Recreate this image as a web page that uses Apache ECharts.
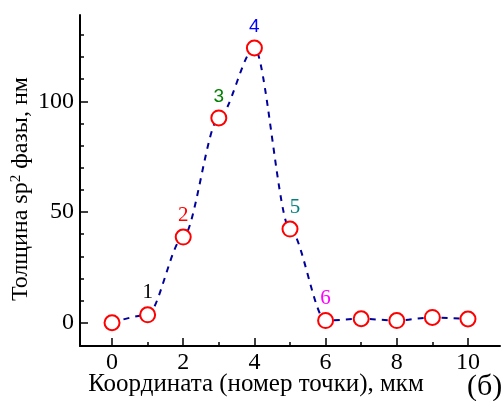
<!DOCTYPE html>
<html>
<head>
<meta charset="utf-8">
<script src="https://cdn.jsdelivr.net/npm/echarts@6/dist/echarts.min.js"></script>
<style>
  html, body { margin: 0; padding: 0; background: #fff; }
  #chart { width: 504px; height: 401px; }
</style>
</head>
<body>
<div id="chart"></div>
<script>
"use strict";

// point index along the scan (x) and sp2 layer thickness, nm (y)
const coords = [0, 1, 2, 3, 4, 5, 6, 7, 8, 9, 10];
const thickness = [0, 3.6, 38.7, 92.5, 124.1, 42.3, 1.0, 1.8, 1.0, 2.4, 1.7];
const pointLabels = ["", "1", "2", "3", "4", "5", "6", "", "", "", ""];
const labelColors = ["", "#000000", "#ff0000", "#008000", "#0000ff", "#008080", "#ff00ff", "", "", "", ""];

const xMajorTicks = [0, 2, 4, 6, 8, 10];
const xMinorTicks = [1, 3, 5, 7, 9];
const yMajorTicks = [0, 50, 100];
const yMinorTicks = [10, 20, 30, 40, 60, 70, 80, 90, 110, 120, 130];

const serif = "Liberation Serif";
const sans = "Liberation Sans";

const chart = echarts.init(document.getElementById("chart"), null, { renderer: "canvas" });

const linePoints = coords.map((x, i) => [x, thickness[i]]);
const markerPoints = coords.map((x, i) => {
  const item = { value: [x, thickness[i]] };
  if (pointLabels[i]) {
    const isSans = pointLabels[i] === "3" || pointLabels[i] === "4";
    item.label = {
      show: true,
      position: "top",
      distance: 3,
      formatter: pointLabels[i],
      color: labelColors[i],
      fontFamily: isSans ? sans : serif,
      fontSize: isSans ? 19 : 21,
      offset: pointLabels[i] === "5" ? [5, 0] : [0, 0]
    };
  }
  return item;
});

function xAxisDef(ticks, len, main) {
  return {
    type: "value",
    gridIndex: 0,
    position: "bottom",
    min: -0.9,
    max: 10.9,
    splitLine: { show: false },
    axisLine: { show: main, onZero: false, lineStyle: { color: "#000", width: 2 } },
    axisTick: { show: true, inside: true, length: len, customValues: ticks, lineStyle: { color: "#000", width: 1.5 } },
    axisLabel: {
      show: main,
      customValues: ticks,
      margin: 5,
      fontFamily: serif,
      fontSize: 24,
      color: "#000"
    },
    name: main ? "Координата (номер точки), мкм" : "",
    nameLocation: "middle",
    nameMoveOverlap: false,
    nameGap: 26,
    nameTextStyle: { fontFamily: serif, fontSize: 25, color: "#000", padding: [0, 68, 0, 0] }
  };
}

function yAxisDef(ticks, len, main) {
  return {
    type: "value",
    gridIndex: 0,
    position: "left",
    min: -10.5,
    max: 139,
    splitLine: { show: false },
    axisLine: { show: main, onZero: false, lineStyle: { color: "#000", width: 2 } },
    axisTick: { show: true, inside: true, length: len, customValues: ticks, lineStyle: { color: "#000", width: 1.5 } },
    axisLabel: {
      show: main,
      customValues: ticks,
      margin: 6,
      fontFamily: serif,
      fontSize: 24,
      color: "#000"
    },
    name: main ? "Толщина sp{sup|2} фазы, нм" : "",
    nameLocation: "middle",
    nameMoveOverlap: false,
    nameGap: 47,
    nameTextStyle: {
      fontFamily: serif,
      fontSize: 24,
      color: "#000",
      padding: [0, 17, 0, 0],
      rich: {
        sup: { fontFamily: serif, fontSize: 15, color: "#000", verticalAlign: "top" }
      }
    }
  };
}

chart.setOption({
  animation: false,
  backgroundColor: "#fff",
  grid: { left: 80, top: 15, right: 4, bottom: 55, outerBoundsMode: "none", containLabel: false },
  xAxis: [xAxisDef(xMajorTicks, 8, true), xAxisDef(xMinorTicks, 4, false)],
  yAxis: [yAxisDef(yMajorTicks, 8, true), yAxisDef(yMinorTicks, 4, false)],
  graphic: [
    {
      type: "text",
      left: 467,
      top: 372,
      style: { text: "(б)", fontFamily: serif, fontSize: 30, fill: "#000" }
    }
  ],
  series: [
    {
      type: "line",
      xAxisIndex: 0,
      yAxisIndex: 0,
      data: linePoints,
      smooth: 0.3,
      smoothMonotone: "x",
      showSymbol: false,
      lineStyle: { color: "#00009a", width: 2, type: [6, 6] },
      z: 2
    },
    {
      type: "scatter",
      xAxisIndex: 0,
      yAxisIndex: 0,
      data: markerPoints,
      symbol: "circle",
      symbolSize: 15,
      itemStyle: { color: "#ffffff", borderColor: "#ff0000", borderWidth: 2, opacity: 1 },
      z: 3
    }
  ]
});

window.onresize = () => {
  chart.resize();
};
</script>
</body>
</html>
